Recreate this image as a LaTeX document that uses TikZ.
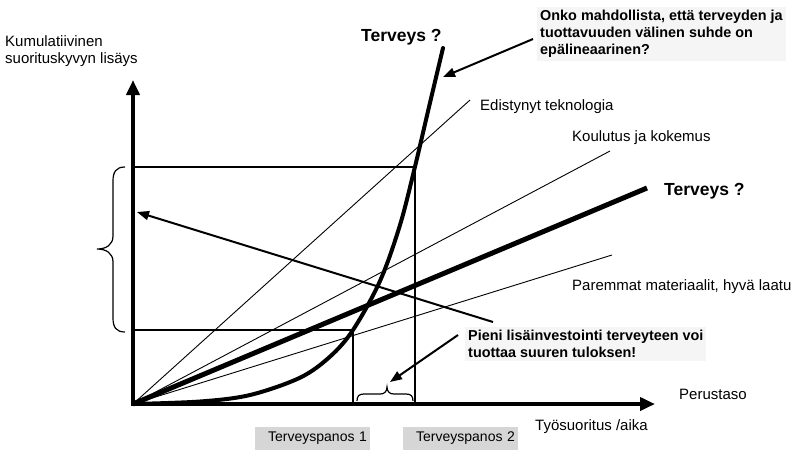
\documentclass[tikz,border=0pt]{standalone}
\usepackage{fontspec}
\setmainfont{Liberation Sans}
\usetikzlibrary{arrows.meta}
\begin{document}
\begin{tikzpicture}[x=1pt,y=-1pt,
  axis/.style={line width=4.4pt,-{Triangle[length=15pt,width=13pt]}},
  pointer/.style={line width=2pt,-{Triangle[length=12pt,width=9pt]}},
  ray/.style={line width=0.9pt},
  healthray/.style={line width=5pt},
  healthcurve/.style={line width=4pt,line cap=round},
  guide/.style={line width=1.5pt},
  bracket/.style={line width=1.2pt},
  lbl/.style={anchor=base west,inner sep=0pt,font=\fontsize{15}{17}\selectfont},
  multilbl/.style={anchor=north west,inner sep=0pt,align=left,font=\fontsize{15}{17}\selectfont},
  bigq/.style={anchor=base west,inner sep=0pt,font=\bfseries\fontsize{17.5}{20}\selectfont},
  note/.style={anchor=north west,inner xsep=3pt,inner ysep=3pt,align=left,fill=black!4,
    font=\bfseries\fontsize{14.4}{17}\selectfont},
  inputbox/.style={fill=black!16,text width=109pt,align=right,inner xsep=3pt,inner ysep=0pt,
    minimum height=23pt,font=\fontsize{14}{16}\selectfont},
]
\useasboundingbox (0,0) rectangle (795,451);

% axes
\coordinate (O) at (133,404);
\coordinate (ytop) at (133,80);
\coordinate (xend) at (655,404);
\draw[axis] (133,406.2) -- (ytop);
\draw[axis] (130.8,404) -- (xend);

% straight productivity rays from the origin
\coordinate (tech) at (470,100);
\coordinate (edu) at (610,151);
\coordinate (hlin) at (647,188);
\coordinate (mat) at (612,255);
\draw[ray] (O) -- (tech);
\draw[ray] (O) -- (edu);
\draw[ray] (O) -- (mat);
\draw[healthray] (O) -- (hlin);

% non-linear health curve
\draw[healthcurve] plot[smooth,tension=0.55] coordinates
  {(133,404) (200,401.5) (250,395) (300,377.7) (330,356.6) (353,330)
   (380,281) (400,225) (415,166.6) (429,107) (443,48)};

% guide lines for the two health inputs
\coordinate (g1) at (353,330);
\coordinate (g2) at (415,167);
\draw[guide] (135,330) -- (g1) -- (353,402);
\draw[guide] (135,167) -- (g2) -- (415,402);

% left brace spanning the gain
\draw[bracket] (125,167) .. controls (116,167) and (113,172) .. (113,181)
  -- (113,236) .. controls (113,245) and (106,249) .. (97,249)
  .. controls (106,249) and (113,253) .. (113,262)
  -- (113,318) .. controls (113,327) and (116,332) .. (125,332);

% small brace between the inputs
\draw[bracket] (357,401) .. controls (357,396) and (359,394) .. (364,394)
  -- (380,394) .. controls (384,394) and (387,392) .. (387,387)
  .. controls (387,392) and (390,394) .. (394,394)
  -- (406,394) .. controls (411,394) and (413,396) .. (413,401);

% texts
\node[multilbl] (ylabel) at (5,35.8) {Kumulatiivinen\\suorituskyvyn lisäys};
\node[bigq] (tq1) at (361,41) {Terveys ?};
\node[bigq] (tq2) at (664,195) {Terveys ?};
\node[note] (question) at (537,7) {Onko mahdollista, että terveyden ja\\tuottavuuden välinen suhde on\\epälineaarinen?};
\node[lbl] (ltech) at (480,110.5) {Edistynyt teknologia};
\node[lbl] (ledu) at (572,141) {Koulutus ja kokemus};
\node[lbl] (lmat) at (572,290) {Paremmat materiaalit, hyvä laatu};
\node[note] (small) at (465,327) {Pieni lisäinvestointi terveyteen voi\\tuottaa suuren tuloksen!};
\node[lbl] (base) at (679,399) {Perustaso};
\node[lbl] (xlabel) at (535,430) {Työsuoritus /aika};
\node[inputbox] (in1) at (312.5,438.5) {Terveyspanos 1};
\node[inputbox] (in2) at (460.5,438.5) {Terveyspanos 2};

% pointers
\coordinate (qstart) at (533,39);
\coordinate (qend) at (443,77);
\coordinate (sstart) at (458,335);
\coordinate (send) at (390,382);
\coordinate (gstart) at (493,322);
\coordinate (gend) at (137,212);
\draw[pointer] (qstart) -- (qend);
\draw[pointer] (sstart) -- (send);
\draw[pointer] (gstart) -- (gend);
\end{tikzpicture}
\end{document}
